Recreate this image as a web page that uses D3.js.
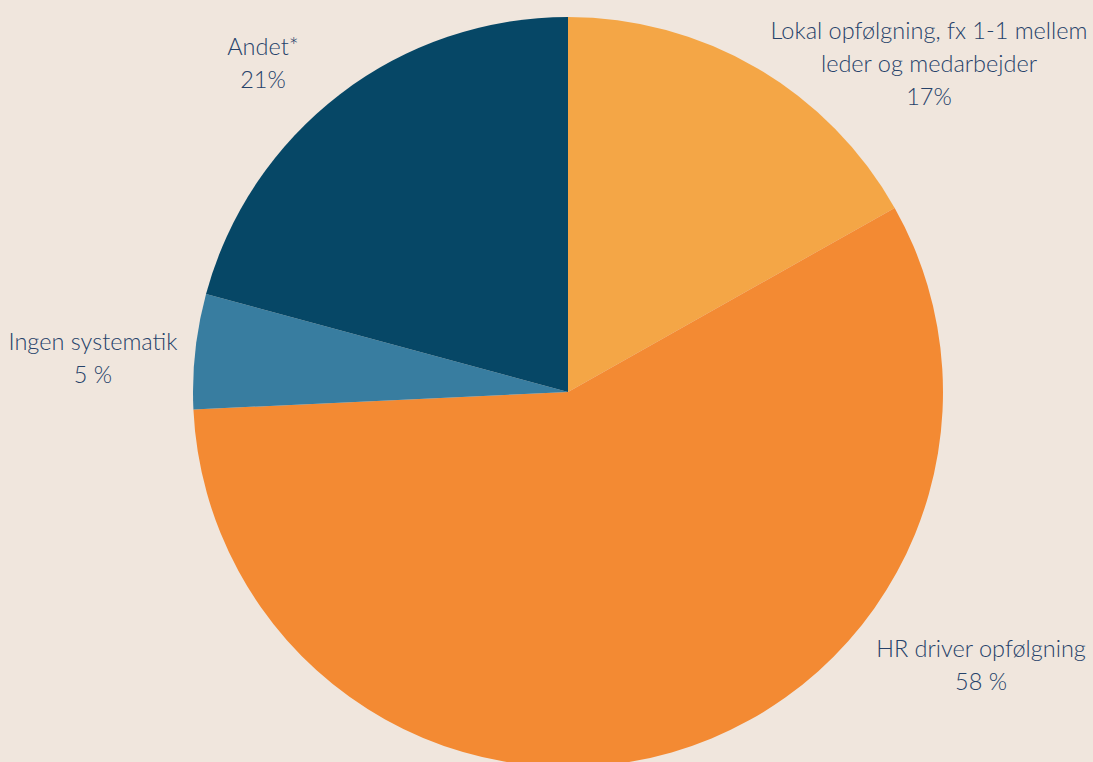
<!DOCTYPE html>
<html>
<head>
<meta charset="utf-8">
<script src="https://cdn.jsdelivr.net/npm/d3@7"></script>
<style>
  body { margin: 0; background: #f0e6dd; }
  svg { display: block; }
</style>
</head>
<body>
<svg></svg>
<script>
const width = 1093
const height = 762

// Data
const categories = ["Lokal opfølgning, fx 1-1 mellem leder og medarbejder", "HR driver opfølgning", "Ingen systematik", "Andet*"]
const values = [17, 58, 5, 21]
const valueLabels = ["17%", "58 %", "5 %", "21%"]
const colors = ["#f4a646", "#f38a33", "#387da0", "#064766"]

// label lines and positions (centre x, first baseline y)
const labelLines = [
    ["Lokal opfølgning, fx 1-1 mellem", "leder og medarbejder"],
    ["HR driver opfølgning"],
    ["Ingen systematik"],
    ["Andet*"]
]
const labelPos = [[929, 39], [981, 657], [93, 350], [263, 55]]

const svg = d3.select("svg")
    .attr("width", width)
    .attr("height", height)

svg.append("rect")
    .attr("width", width)
    .attr("height", height)
    .attr("fill", "#f0e6dd")

const cx = 568
const cy = 392
const radius = 375

const pie = d3.pie().sort(null).value(d => d)
const arc = d3.arc().innerRadius(0).outerRadius(radius)

const g = svg.append("g")
    .attr("transform", `translate(${cx}, ${cy})`)

g.selectAll("path").data(pie(values))
    .enter()
    .append("path")
    .attr("d", arc)
    .attr("fill", (d, i) => colors[i])

// Labels
const lineHeight = 33
const labels = svg.selectAll("text.label").data(categories)
    .enter()
    .append("text")
    .attr("class", "label")
    .attr("text-anchor", "middle")
    .attr("font-family", "Lato, 'Open Sans', sans-serif")
    .attr("font-weight", 300)
    .attr("font-size", "23.5px")
    .attr("fill", "#26426a")

labels.each(function (d, i) {
    const t = d3.select(this)
    const lines = labelLines[i].concat([valueLabels[i]])
    lines.forEach((line, j) => {
        t.append("tspan")
            .attr("x", labelPos[i][0])
            .attr("y", labelPos[i][1] + j * lineHeight)
            .text(line)
    })
})
</script>
</body>
</html>
